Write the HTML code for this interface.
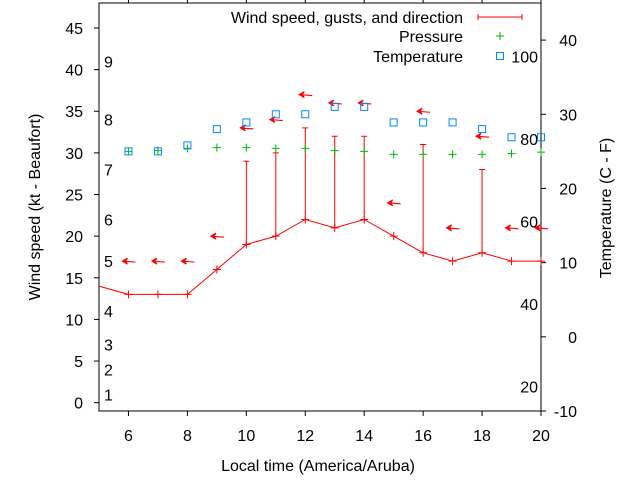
<!DOCTYPE html>
<html><head><meta charset="utf-8"><style>
body{margin:0;background:#fff}
svg text{font-family:"Liberation Sans",sans-serif;font-size:16px;fill:#000}
</style></head><body>
<svg id="c" width="640" height="480" xmlns="http://www.w3.org/2000/svg"></svg>
<script>
const hours=[5,6,7,8,9,10,11,12,13,14,15,16,17,18,19,20];
const windSpeed=[14,13,13,13,16,19,20,22,21,22,20,18,17,18,17,17];
const gustHours=[10,11,12,13,14,16,18];
const gustValues=[29,30,33,32,32,31,28];
const dirHours=[6,7,8,9,10,11,12,13,14,15,16,17,18,19,20];
const dirLevel=[17,17,17,20,33,34,37,36,36,24,35,21,32,21,21];
const pressure=[25.0,25.1,25.4,25.5,25.5,25.4,25.4,25.1,25.0,24.6,24.6,24.6,24.6,24.7,24.9];
const temperature=[25.0,25.0,25.8,28.0,28.9,30.0,30.0,31.0,31.0,28.9,28.9,28.9,28.0,26.9,26.9];
const ptHours=[6,7,8,9,10,11,12,13,14,15,16,17,18,19,20];
const leftTicks=[0,5,10,15,20,25,30,35,40,45];
const rightTicks=[-10,0,10,20,30,40];
const xTicks=[6,8,10,12,14,16,18,20];
const beaufort=[[1,1],[2,4],[3,7],[4,11],[5,17],[6,22],[7,28],[8,34],[9,41]];
const fahr=[20,40,60,80,100];

const L=99,R=541,T=3,B=411;
const X=h=>L+(h-5)*(R-L)/15;
const Y=v=>B-(v+1)*(B-T)/49;
const Y2=v=>B-(v+10)*(B-T)/55;
const svg=document.getElementById('c');
const NS='http://www.w3.org/2000/svg';
function mk(tag,attrs,parent){const e=document.createElementNS(NS,tag);for(const k in attrs)e.setAttribute(k,attrs[k]);(parent||svg).appendChild(e);return e;}

let e;
e=mk('rect',{x:L,y:T,width:R-L,height:B-T,fill:'none',stroke:'#000','stroke-width':1});



leftTicks.forEach(v=>{const y=Y(v);mk('line',{x1:L-5,x2:L,y1:y,y2:y,stroke:'#000'});
 e=mk('text',{x:83,y:y+6,'text-anchor':'end'});e.textContent=v;
 
 });
rightTicks.forEach(v=>{const y=Y2(v);mk('line',{x1:R,x2:R+5,y1:y,y2:y,stroke:'#000'});
 e=mk('text',{x:577,y:y+6,'text-anchor':'end'});e.textContent=v;
 
 });
xTicks.forEach(v=>{const x=X(v);mk('line',{x1:x,x2:x,y1:B,y2:B+5,stroke:'#000'});mk('line',{x1:x,x2:x,y1:T,y2:T-3,stroke:'#000'});
 e=mk('text',{x:x,y:B+30,'text-anchor':'middle'});e.textContent=v;
 
 });
beaufort.forEach(([n,v])=>{e=mk('text',{x:104,y:Y(v)+6});e.textContent=n;
 
 });
fahr.forEach(f=>{const c=(f-32)*5/9;e=mk('text',{x:538,y:Y2(c)+6,'text-anchor':'end'});e.textContent=f;
 
 });

// wind line
e=mk('polyline',{points:hours.map((h,i)=>X(h)+','+Y(windSpeed[i])).join(' ')+' '+R+','+Y(windSpeed[windSpeed.length-1]),fill:'none',stroke:'#f00'});


hours.forEach((h,i)=>{if(h===5)return;const x=X(h),y=Y(windSpeed[i]);
 e=mk('path',{d:`M${x-4},${y}H${x+4}M${x},${y-4}V${y+4}`,stroke:'#f00'});
 
 });
gustHours.forEach((h,i)=>{const x=X(h);const w=windSpeed[hours.indexOf(h)];
 e=mk('path',{d:`M${x},${Y(w)}V${Y(gustValues[i])}M${x-3},${Y(gustValues[i])}H${x+3}`,stroke:'#f00'});
 
 });
dirHours.forEach((h,i)=>{const x=X(h)-6,y=Y(dirLevel[i]);
 e=mk('path',{d:`M${x},${y}L${x+5},${y-3}L${x+3},${y}L${x+5},${y+3}Z M${x},${y}L${x+13},${y+1}`,fill:'#f00',stroke:'#f00','stroke-width':1.1});
 
 });
ptHours.forEach((h,i)=>{const x=X(h),y=Y2(pressure[i]);
 e=mk('path',{d:`M${x-4},${y}H${x+4}M${x},${y-4}V${y+4}`,stroke:'#0b0'});
 
 });
ptHours.forEach((h,i)=>{const x=X(h),y=Y2(temperature[i]);
 e=mk('rect',{x:x-3.5,y:y-3.5,width:7,height:7,fill:'none',stroke:'#08f'});
 
 });

// legend
e=mk('text',{x:463,y:23,'text-anchor':'end'});e.textContent='Wind speed, gusts, and direction';


mk('path',{d:'M478,17H522M478,14V20M522,14V20',stroke:'#f00'});
e=mk('text',{x:463,y:42,'text-anchor':'end'});e.textContent='Pressure';


mk('path',{d:'M496,36H504M500,32V40',stroke:'#0b0'});
e=mk('text',{x:463,y:62,'text-anchor':'end'});e.textContent='Temperature';


mk('rect',{x:496.5,y:52.5,width:7,height:7,fill:'none',stroke:'#08f'});

e=mk('text',{x:0,y:0,'text-anchor':'middle',transform:'translate(40,207) rotate(-90)'});e.textContent='Wind speed (kt - Beaufort)';


e=mk('text',{x:0,y:0,'text-anchor':'middle',transform:'translate(611,208) rotate(-90)'});e.textContent='Temperature (C - F)';


e=mk('text',{x:318,y:471,'text-anchor':'middle'});e.textContent='Local time (America/Aruba)';


</script>
</body></html>
